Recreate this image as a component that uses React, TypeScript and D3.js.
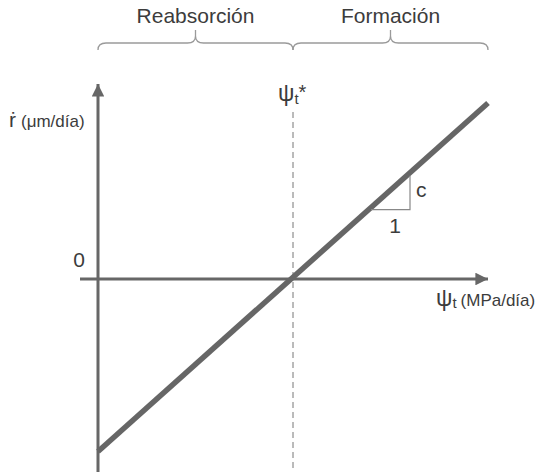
import React from "react";
import * as d3 from "d3";

// Water potential (ψt) domain, normalised so ψt* sits at 0
const psiDomain = [-1, 1];
const psiStar = 0;
// Radial growth rate ṙ as a linear function of ψt, ṙ = c·(ψt − ψt*)
const linePsi = [-1, 1];
const lineRate = [-0.98, 1];
// Slope triangle: run of 1, rise of c
const trianglePsi = [0.4, 0.6];
const regionLabels = ["Reabsorción", "Formación"];

const W = 536;
const H = 472;
const FONT = "'Liberation Sans', Arial, sans-serif";

export default function App() {
  const x = d3.scaleLinear().domain(psiDomain).range([98, 488]);
  const y = d3.scaleLinear().domain([0, 1]).range([279, 103]);

  const pts: [number, number][] = linePsi.map((p, i) => [x(p), y(lineRate[i])]);
  const line = d3.line()(pts) as string;

  const slope = (lineRate[1] - lineRate[0]) / (linePsi[1] - linePsi[0]);
  const rateAt = (p: number) => lineRate[0] + slope * (p - linePsi[0]);
  const tx0 = x(trianglePsi[0]);
  const tx1 = x(trianglePsi[1]);
  const ty0 = y(rateAt(trianglePsi[0])) + 2;
  const ty1 = y(rateAt(trianglePsi[1])) + 3;

  const x0 = x(psiStar);
  const yAxisX = x(psiDomain[0]);
  const xEnd = x(psiDomain[1]);
  const xAxisY = y(0);

  // curly brace spanning xa..xb with its tip pointing up
  const brace = (xa: number, xb: number) => {
    const mid = (xa + xb) / 2;
    const yEnd = 50;
    const yLine = 43;
    const yTip = 30;
    const r = 8;
    return [
      `M${xa},${yEnd}`,
      `Q${xa},${yLine} ${xa + r},${yLine}`,
      `L${mid - r},${yLine}`,
      `Q${mid},${yLine} ${mid},${yTip + 6}`,
      `L${mid},${yTip}`,
      `M${mid},${yTip + 6}`,
      `Q${mid},${yLine} ${mid + r},${yLine}`,
      `L${xb - r},${yLine}`,
      `Q${xb},${yLine} ${xb},${yEnd}`,
    ].join(" ");
  };

  const axisColor = "#676767";
  const textColor = "#3c3c3c";

  return (
    <svg
      width={W}
      height={H}
      style={{ position: "absolute", left: 0, top: 0, background: "#fff" }}
      fontFamily={FONT}
    >
      <defs>
        <marker
          id="arrow"
          viewBox="0 0 10 10"
          refX="10"
          refY="5"
          markerWidth="6"
          markerHeight="4.2"
          markerUnits="strokeWidth"
          orient="auto"
        >
          <path d="M0,0 L10,5 L0,10 Z" fill={axisColor} />
        </marker>
      </defs>

      {/* region braces */}
      <path d={brace(yAxisX, x0)} fill="none" stroke="#9a9a9a" strokeWidth={1.3} />
      <path d={brace(x0, xEnd)} fill="none" stroke="#9a9a9a" strokeWidth={1.3} />
      <text x={(yAxisX + x0) / 2} y={23} textAnchor="middle" fontSize={21} fill={textColor}>
        {regionLabels[0]}
      </text>
      <text x={(x0 + xEnd) / 2} y={23} textAnchor="middle" fontSize={21} fill={textColor}>
        {regionLabels[1]}
      </text>

      {/* ψt* reference */}
      <line x1={x0} x2={x0} y1={112} y2={H} stroke="#777" strokeWidth={1} strokeDasharray="6,4" />
      <text x={278} y={101} fontSize={23} fill={textColor}>
        ψ<tspan fontSize={15} dy={3}>t</tspan>
        <tspan dy={-5} fontSize={20}>*</tspan>
      </text>

      {/* axes */}
      <line x1={yAxisX} x2={yAxisX} y1={H} y2={84} stroke={axisColor} strokeWidth={3} markerEnd="url(#arrow)" />
      <line x1={80} x2={488} y1={xAxisY} y2={xAxisY} stroke={axisColor} strokeWidth={3} markerEnd="url(#arrow)" />

      {/* growth-rate line */}
      <path d={line} fill="none" stroke="#666" strokeWidth={5.5} />

      {/* slope triangle */}
      <path
        d={`M${tx0},${ty0} L${tx1},${ty0} L${tx1},${ty1}`}
        fill="none"
        stroke="#888"
        strokeWidth={1.2}
      />
      <text x={tx1 + 6} y={197} fontSize={21} fill={textColor}>
        c
      </text>
      <text x={395} y={233} textAnchor="middle" fontSize={21} fill={textColor}>
        1
      </text>

      {/* axis labels */}
      <text x={79} y={267} textAnchor="middle" fontSize={21} fill={textColor}>
        0
      </text>
      <text x={9} y={127} fontSize={21} fill={textColor}>
        ṙ<tspan fontSize={17} dx={5}>(μm/día)</tspan>
      </text>
      <text x={436} y={306} fontSize={23} fill={textColor}>
        ψ<tspan fontSize={15} dy={2}>t</tspan>
        <tspan fontSize={17} dy={-2} dx={4}>(MPa/día)</tspan>
      </text>
    </svg>
  );
}
